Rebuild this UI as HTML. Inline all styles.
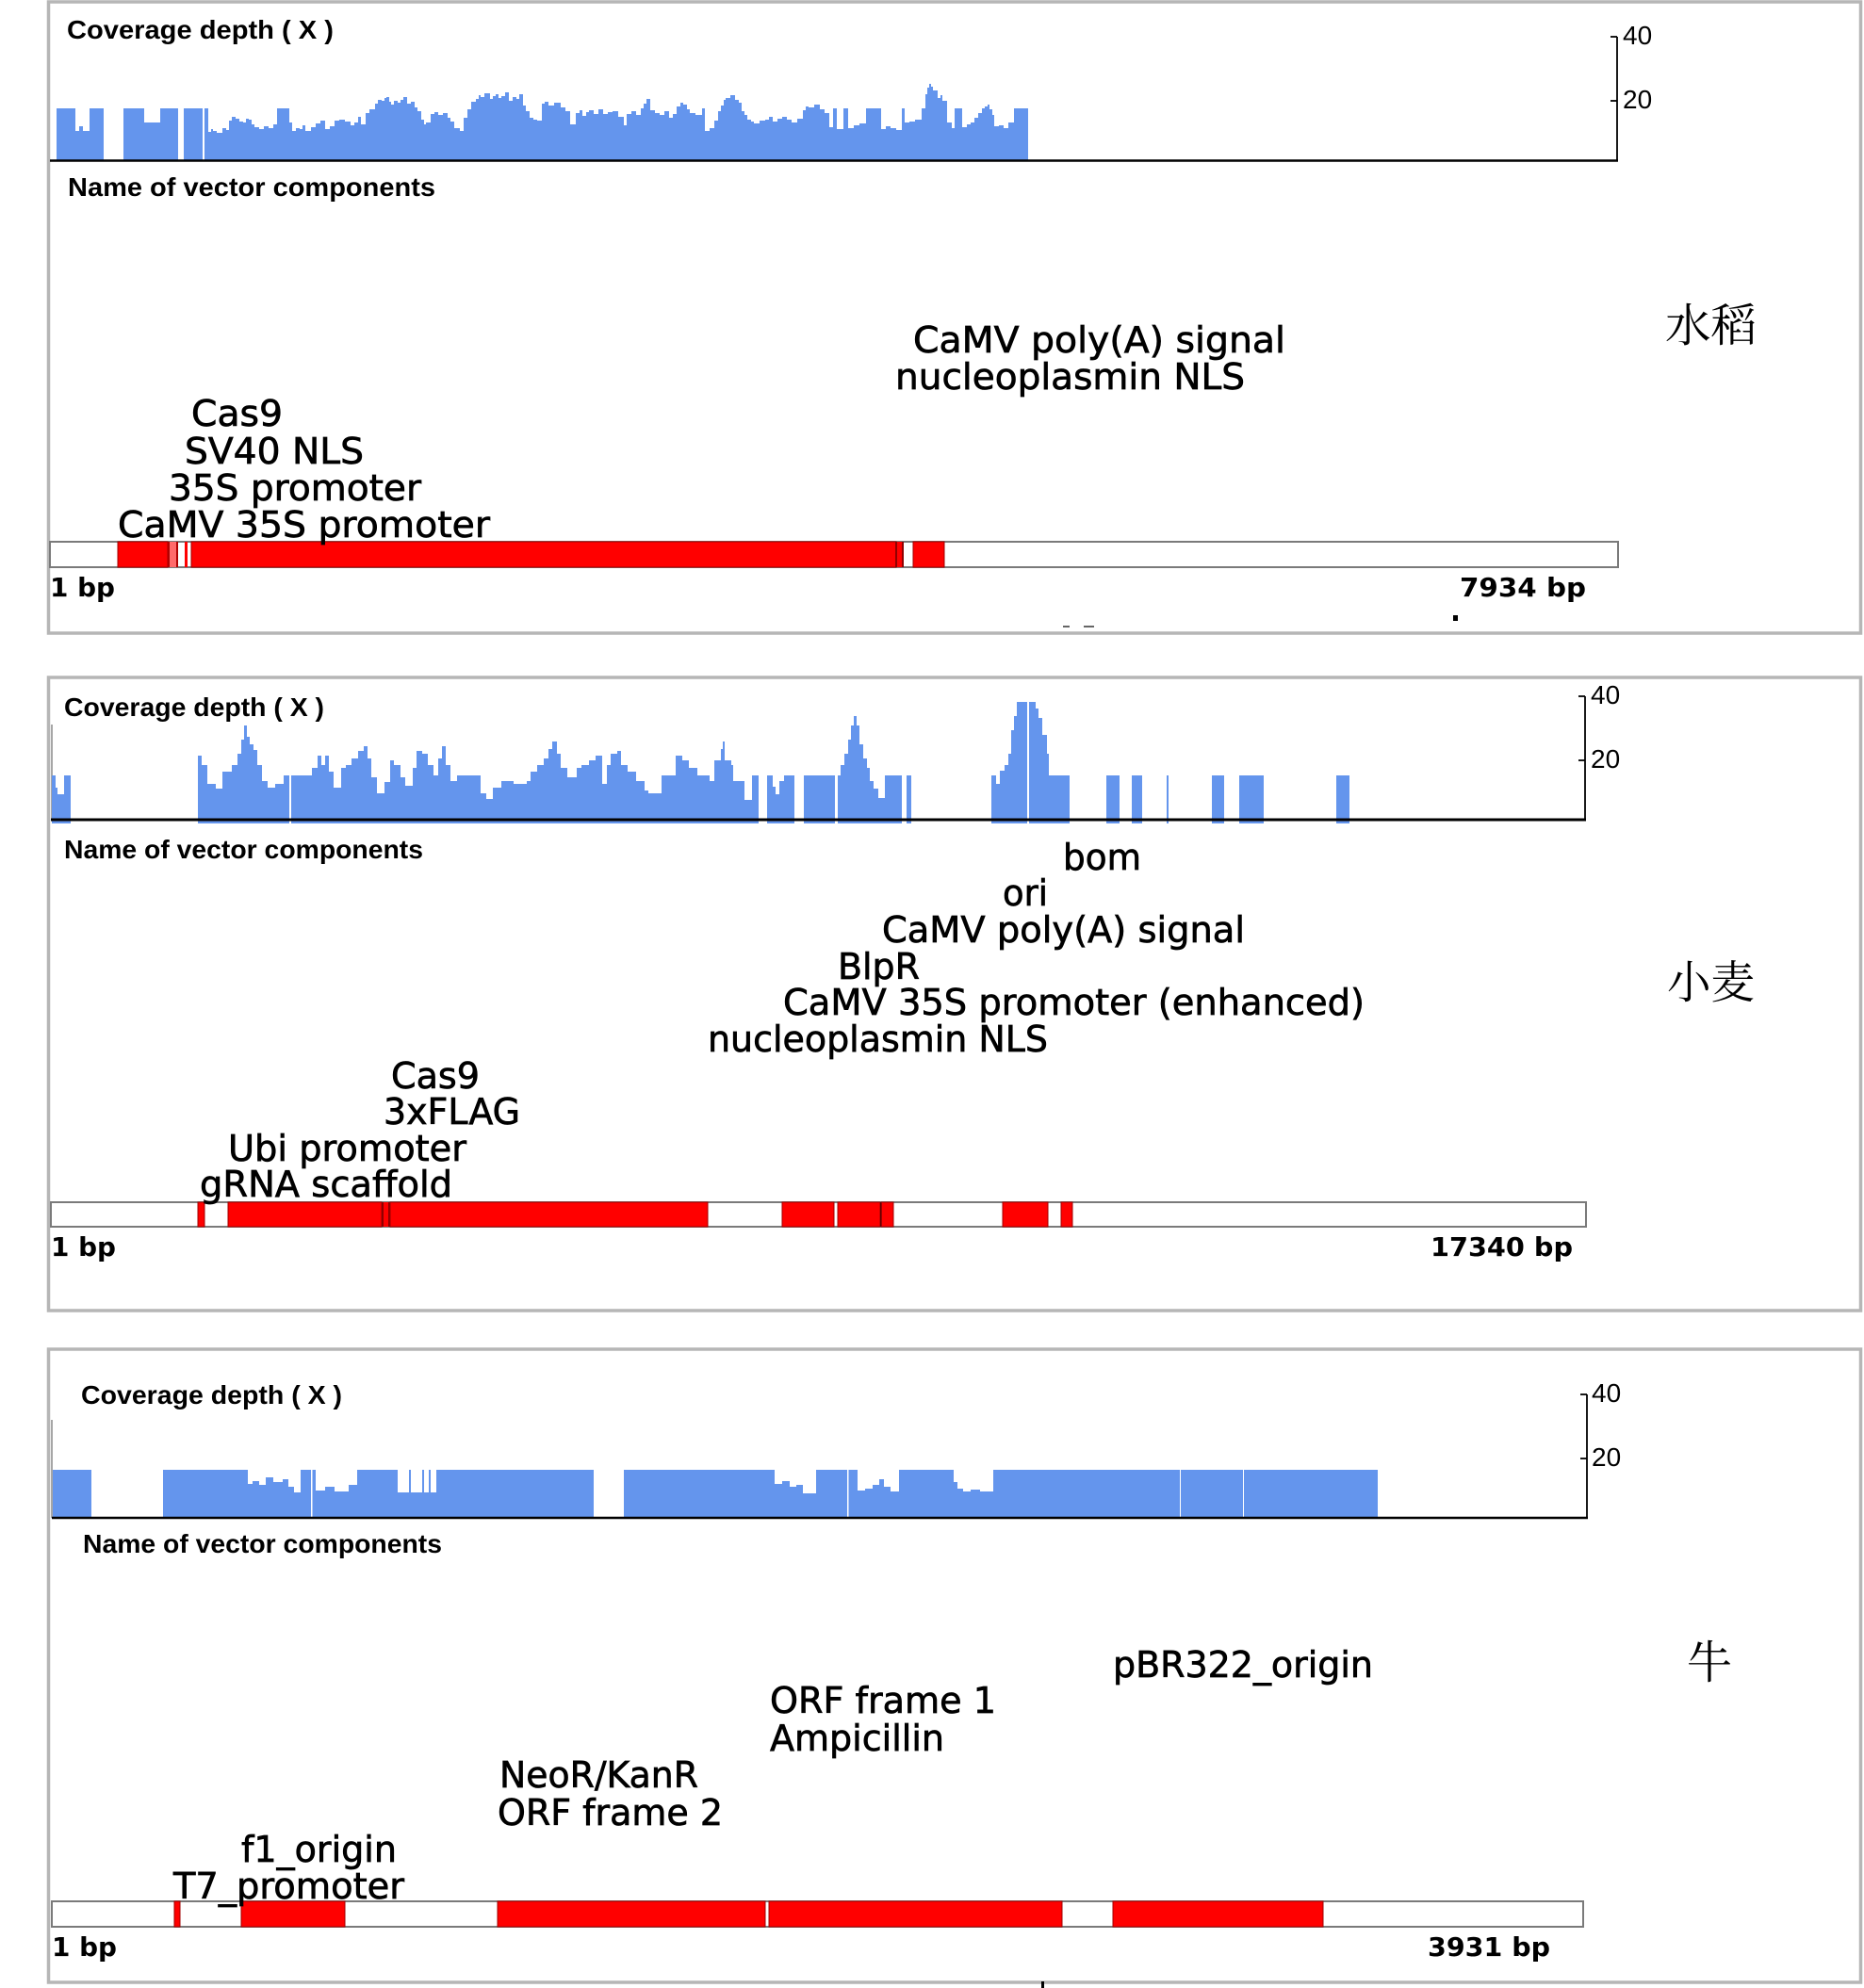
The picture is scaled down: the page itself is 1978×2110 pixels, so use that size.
<!DOCTYPE html>
<html>
<head>
<meta charset="utf-8">
<style>
html,body{margin:0;padding:0;background:#fff;}
svg{display:block;}
.tt{font-family:"Liberation Sans",Arial,sans-serif;font-weight:bold;font-size:28px;fill:#000;}
.tk{font-family:"Liberation Sans",Arial,sans-serif;font-size:28px;fill:#000;}
.lb{font-family:"DejaVu Sans","Liberation Sans",sans-serif;font-size:38px;fill:#000;stroke:#000;stroke-width:0.7;}
.bp{font-family:"DejaVu Sans","Liberation Sans",sans-serif;font-weight:bold;font-size:28px;fill:#000;}
.cn{font-family:"Liberation Serif","Noto Serif CJK SC","Noto Sans CJK SC",serif;font-size:48px;fill:#000;}
.cov{fill:#6495ED;}
.red{fill:#ff0000;stroke:#a00000;stroke-width:1;}
.trk{fill:#fff;stroke:#7a7a7a;stroke-width:2;}
.pan{fill:#fff;stroke:#b6b6b6;stroke-width:3.5;}
</style>
</head>
<body>
<svg width="1978" height="2110" viewBox="0 0 1978 2110" xmlns="http://www.w3.org/2000/svg">
<rect x="0" y="0" width="1978" height="2110" fill="#fff"/>

<!-- ================= PANEL 1 ================= -->
<rect class="pan" x="51.5" y="2" width="1923" height="670"/>
<text class="tt" x="71" y="41" textLength="283" lengthAdjust="spacingAndGlyphs">Coverage depth ( X )</text>

<path class="cov" d="M60,170 V115 H80 V139 H84 V134 H88 V139 H95 V115 H110 V170 Z"/>
<path class="cov" d="M131,170 V115 H153 V130 H170 V115 H189 V170 Z"/>
<path class="cov" d="M195,170 V115 H215 V170 H217 V115 H221 V140 H224 V137 H226 V139 H230 V141 H236 V136 H240 V138 H243 V128 H246 V124 H250 V126 H254 V129 H258 V130 H261 V126 H264 V127 H267 V132 H270 V135 H275 V137 H280 V134 H285 V136 H290 V132 H294 V115 H307 V130 H310 V139 H314 V136 H318 V137 H321 V133 H324 V139 H330 V135 H335 V131 H340 V128 H345 V137 H350 V134 H355 V128 H360 V127 H366 V129 H372 V133 H376 V130 H380 V124 H383 V132 H388 V120 H392 V116 H398 V110 H401 V106 H405 V107 H408 V104 H410 V103 H413 V108 H415 V111 H418 V107 H422 V109 H425 V106 H428 V103 H432 V110 H436 V108 H440 V114 H443 V118 H447 V127 H450 V132 H452 V130 H457 V121 H461 V119 H465 V122 H470 V120 H475 V125 H478 V129 H482 V136 H488 V139 H492 V125 H496 V116 H500 V108 H505 V105 H508 V101 H510 V103 H514 V99 H520 V105 H523 V102 H526 V100 H529 V104 H532 V102 H536 V98 H540 V107 H544 V103 H548 V105 H551 V100 H555 V112 H558 V118 H562 V125 H566 V127 H570 V128 H575 V110 H578 V108 H582 V112 H588 V109 H595 V114 H600 V118 H605 V132 H611 V120 H615 V117 H618 V123 H622 V119 H625 V117 H630 V121 H635 V116 H640 V121 H645 V119 H650 V118 H656 V124 H662 V133 H665 V121 H670 V118 H675 V122 H680 V115 H683 V110 H686 V105 H690 V117 H695 V120 H700 V122 H705 V118 H710 V125 H714 V121 H718 V113 H722 V109 H725 V111 H729 V116 H732 V120 H738 V122 H745 V115 H748 V139 H753 V136 H758 V128 H762 V118 H765 V112 H768 V106 H770 V104 H775 V101 H780 V106 H784 V109 H787 V118 H790 V122 H793 V127 H797 V129 H800 V131 H806 V128 H812 V127 H816 V124 H820 V129 H825 V126 H830 V124 H835 V127 H840 V130 H846 V126 H852 V117 H855 V113 H858 V114 H864 V111 H870 V116 H875 V120 H880 V135 H884 V115 H888 V137 H895 V115 H900 V136 H906 V133 H912 V131 H919 V115 H935 V137 H940 V134 H945 V136 H951 V138 H957 V115 H960 V130 H965 V129 H971 V127 H978 V115 H982 V100 H984 V93 H986 V89 H988 V92 H990 V96 H995 V104 H998 V101 H1000 V107 H1005 V130 H1010 V136 H1013 V115 H1021 V135 H1026 V132 H1030 V130 H1034 V125 H1038 V120 H1042 V115 H1045 V113 H1048 V111 H1050 V116 H1053 V122 H1055 V134 H1060 V133 H1065 V136 H1070 V130 H1076 V115 H1091 V170 Z"/>

<line x1="53" y1="170.5" x2="1717" y2="170.5" stroke="#000" stroke-width="2.5"/>
<line x1="1716" y1="39" x2="1716" y2="171" stroke="#000" stroke-width="1.8"/>
<line x1="1709" y1="39" x2="1716" y2="39" stroke="#000" stroke-width="1.8"/>
<line x1="1709" y1="107" x2="1716" y2="107" stroke="#000" stroke-width="1.8"/>
<text class="tk" x="1722" y="47">40</text>
<text class="tk" x="1722" y="115">20</text>

<text class="tt" x="72" y="208" textLength="390" lengthAdjust="spacingAndGlyphs">Name of vector components</text>

<rect class="trk" x="53" y="575" width="1664" height="27"/>
<rect class="red" x="125" y="575" width="53" height="27"/>
<rect x="178" y="575" width="2" height="27" fill="#b00000"/>
<rect x="180" y="575" width="8" height="27" fill="#ff6a6a"/>
<rect x="187" y="575" width="2" height="27" fill="#b00000"/>
<rect x="196" y="575" width="3" height="27" fill="#ff0000"/>
<rect class="red" x="203" y="575" width="748" height="27"/>
<rect x="950" y="575" width="2" height="27" fill="#900000"/>
<rect x="952" y="575" width="6" height="27" fill="#ff0000"/>
<rect x="957" y="575" width="2" height="27" fill="#900000"/>
<rect class="red" x="969" y="575" width="33" height="27"/>

<text class="lb" x="969" y="374" textLength="395" lengthAdjust="spacingAndGlyphs">CaMV poly(A) signal</text>
<text class="lb" x="950" y="413" textLength="371" lengthAdjust="spacingAndGlyphs">nucleoplasmin NLS</text>
<text class="lb" x="203" y="452" textLength="97" lengthAdjust="spacingAndGlyphs">Cas9</text>
<text class="lb" x="196" y="492" textLength="190" lengthAdjust="spacingAndGlyphs">SV40 NLS</text>
<text class="lb" x="179" y="531" textLength="268" lengthAdjust="spacingAndGlyphs">35S promoter</text>
<text class="lb" x="125" y="570" textLength="395" lengthAdjust="spacingAndGlyphs">CaMV 35S promoter</text>

<text class="bp" x="53" y="633" textLength="69" lengthAdjust="spacingAndGlyphs">1 bp</text>
<text class="bp" x="1549" y="633" textLength="134" lengthAdjust="spacingAndGlyphs">7934 bp</text>
<rect x="1542" y="653" width="5" height="6" fill="#000"/>
<rect x="1128" y="664" width="7" height="2" fill="#666"/>
<rect x="1150" y="664" width="11" height="2" fill="#666"/>

<text class="cn" x="1767" y="362" textLength="97" lengthAdjust="spacingAndGlyphs">水稻</text>

<!-- ================= PANEL 2 ================= -->
<rect class="pan" x="51.5" y="719" width="1923" height="672"/>
<text class="tt" x="68" y="760" textLength="276" lengthAdjust="spacingAndGlyphs">Coverage depth ( X )</text>
<line x1="55" y1="769" x2="55" y2="870" stroke="#888" stroke-width="1.5"/>

<path class="cov" d="M55,874 V823 H59 V836 H61 V843 H68 V823 H75 V874 Z"/>
<path class="cov" d="M210,874 V802 H214 V812 H220 V832 H229 V837 H236 V819 H246 V812 H252 V800 H256 V785 H259 V770 H262 V782 H265 V790 H269 V796 H273 V812 H278 V829 H284 V836 H292 V832 H301 V823 H307 V874 H309 V823 H331 V815 H337 V802 H341 V812 H345 V802 H349 V819 H354 V836 H362 V815 H367 V812 H373 V805 H380 V797 H386 V792 H390 V805 H394 V825 H400 V842 H408 V830 H414 V807 H418 V812 H425 V825 H430 V834 H438 V815 H442 V797 H448 V800 H454 V812 H460 V823 H465 V805 H469 V792 H473 V812 H478 V829 H485 V823 H510 V842 H516 V848 H523 V836 H532 V829 H545 V832 H559 V829 H563 V819 H570 V812 H577 V805 H582 V795 H586 V787 H591 V800 H595 V815 H602 V825 H612 V815 H617 V812 H625 V807 H632 V802 H639 V832 H644 V812 H648 V800 H655 V797 H659 V812 H666 V819 H675 V829 H684 V839 H688 V842 H702 V823 H717 V802 H724 V807 H731 V815 H740 V823 H753 V829 H758 V807 H765 V795 H767 V787 H769 V807 H776 V812 H778 V829 H790 V849 H798 V823 H805 V874 Z"/>
<path class="cov" d="M814,874 V823 H820 V835 H823 V843 H827 V829 H832 V823 H843 V874 Z"/>
<path class="cov" d="M853,874 V823 H886 V874 Z"/>
<path class="cov" d="M889,874 V823 H892 V812 H896 V800 H900 V785 H903 V770 H906 V760 H909 V770 H912 V790 H916 V805 H920 V815 H923 V829 H927 V837 H932 V847 H939 V823 H957 V874 Z"/>
<path class="cov" d="M962,874 V823 H967 V874 Z"/>
<path class="cov" d="M1052,874 V823 H1057 V832 H1061 V818 H1066 V812 H1070 V800 H1073 V775 H1076 V760 H1079 V745 H1090 V874 Z"/>
<path class="cov" d="M1092,874 V745 H1099 V752 H1102 V762 H1106 V780 H1111 V800 H1113 V823 H1135 V874 Z"/>
<rect class="cov" x="1174" y="823" width="14" height="51"/>
<rect class="cov" x="1201" y="823" width="11" height="51"/>
<rect class="cov" x="1238" y="823" width="2" height="51"/>
<rect class="cov" x="1286" y="823" width="13" height="51"/>
<rect class="cov" x="1315" y="823" width="26" height="51"/>
<rect class="cov" x="1418" y="823" width="14" height="51"/>

<line x1="54" y1="870" x2="1683" y2="870" stroke="#000" stroke-width="3"/>
<line x1="1682" y1="739" x2="1682" y2="871" stroke="#000" stroke-width="1.8"/>
<line x1="1675" y1="739" x2="1682" y2="739" stroke="#000" stroke-width="1.8"/>
<line x1="1675" y1="807" x2="1682" y2="807" stroke="#000" stroke-width="1.8"/>
<text class="tk" x="1688" y="747">40</text>
<text class="tk" x="1688" y="815">20</text>

<text class="tt" x="68" y="911" textLength="381" lengthAdjust="spacingAndGlyphs">Name of vector components</text>

<rect class="trk" x="54" y="1276" width="1629" height="26"/>
<rect class="red" x="210" y="1276" width="7" height="26"/>
<rect class="red" x="242" y="1276" width="163" height="26"/>
<rect x="405" y="1276" width="2" height="26" fill="#900000"/>
<rect x="407" y="1276" width="5" height="26" fill="#ff0000"/>
<rect x="412" y="1276" width="2" height="26" fill="#900000"/>
<rect class="red" x="414" y="1276" width="337" height="26"/>
<rect class="red" x="830" y="1276" width="55" height="26"/>
<rect class="red" x="889" y="1276" width="45" height="26"/>
<rect x="934" y="1276" width="1.5" height="26" fill="#600000"/>
<rect class="red" x="935.5" y="1276" width="12.5" height="26"/>
<rect class="red" x="1064" y="1276" width="48" height="26"/>
<rect class="red" x="1126" y="1276" width="12" height="26"/>

<text class="lb" x="1128" y="923" textLength="83" lengthAdjust="spacingAndGlyphs">bom</text>
<text class="lb" x="1064" y="961" textLength="48" lengthAdjust="spacingAndGlyphs">ori</text>
<text class="lb" x="936" y="1000" textLength="385" lengthAdjust="spacingAndGlyphs">CaMV poly(A) signal</text>
<text class="lb" x="889" y="1039" textLength="87" lengthAdjust="spacingAndGlyphs">BlpR</text>
<text class="lb" x="831" y="1077" textLength="617" lengthAdjust="spacingAndGlyphs">CaMV 35S promoter (enhanced)</text>
<text class="lb" x="751" y="1116" textLength="361" lengthAdjust="spacingAndGlyphs">nucleoplasmin NLS</text>
<text class="lb" x="415" y="1155" textLength="94" lengthAdjust="spacingAndGlyphs">Cas9</text>
<text class="lb" x="407" y="1193" textLength="145" lengthAdjust="spacingAndGlyphs">3xFLAG</text>
<text class="lb" x="242" y="1232" textLength="253" lengthAdjust="spacingAndGlyphs">Ubi promoter</text>
<text class="lb" x="212" y="1270" textLength="268" lengthAdjust="spacingAndGlyphs">gRNA scaffold</text>

<text class="bp" x="54" y="1333" textLength="69" lengthAdjust="spacingAndGlyphs">1 bp</text>
<text class="bp" x="1518" y="1333" textLength="151" lengthAdjust="spacingAndGlyphs">17340 bp</text>

<text class="cn" x="1769" y="1059" textLength="93" lengthAdjust="spacingAndGlyphs">小麦</text>

<!-- ================= PANEL 3 ================= -->
<rect class="pan" x="51.5" y="1432" width="1923" height="672"/>
<text class="tt" x="86" y="1490" textLength="277" lengthAdjust="spacingAndGlyphs">Coverage depth ( X )</text>
<line x1="55" y1="1507" x2="55" y2="1611" stroke="#888" stroke-width="1.5"/>

<path class="cov" d="M56,1610 V1560 H97 V1610 Z"/>
<path class="cov" d="M173,1610 V1560 H263 V1575 H268 V1572 H275 V1576 H282 V1568 H290 V1573 H300 V1570 H306 V1578 H312 V1584 H319 V1560 H330 V1610 H331.5 V1560 H335 V1582 H345 V1578 H355 V1583 H370 V1576 H379 V1560 H422 V1584 H434 V1560 H436 V1584 H448 V1560 H450 V1584 H455 V1560 H457 V1584 H463 V1560 H630 V1610 Z"/>
<path class="cov" d="M662,1610 V1560 H822 V1575 H830 V1572 H838 V1578 H845 V1576 H852 V1585 H866 V1560 H899 V1610 H900.5 V1560 H910 V1582 H918 V1580 H926 V1576 H933 V1570 H938 V1578 H945 V1583 H954 V1560 H1012 V1573 H1016 V1580 H1022 V1583 H1030 V1581 H1040 V1583 H1054 V1560 H1252 V1610 H1253 V1560 H1319 V1610 H1320 V1560 H1462 V1610 Z"/>

<line x1="55" y1="1611" x2="1685" y2="1611" stroke="#000" stroke-width="2.5"/>
<line x1="1684" y1="1480" x2="1684" y2="1612" stroke="#000" stroke-width="1.8"/>
<line x1="1677" y1="1480" x2="1684" y2="1480" stroke="#000" stroke-width="1.8"/>
<line x1="1677" y1="1548" x2="1684" y2="1548" stroke="#000" stroke-width="1.8"/>
<text class="tk" x="1689" y="1488">40</text>
<text class="tk" x="1689" y="1556">20</text>

<text class="tt" x="88" y="1648" textLength="381" lengthAdjust="spacingAndGlyphs">Name of vector components</text>

<rect class="trk" x="55" y="2018" width="1625" height="27"/>
<rect class="red" x="185" y="2018" width="6" height="27"/>
<rect class="red" x="256" y="2018" width="110" height="27"/>
<rect class="red" x="528" y="2018" width="284" height="27"/>
<rect class="red" x="816" y="2018" width="311" height="27"/>
<rect class="red" x="1181" y="2018" width="223" height="27"/>

<text class="lb" x="1181" y="1780" textLength="276" lengthAdjust="spacingAndGlyphs">pBR322_origin</text>
<text class="lb" x="817" y="1818" textLength="240" lengthAdjust="spacingAndGlyphs">ORF frame 1</text>
<text class="lb" x="817" y="1858" textLength="185" lengthAdjust="spacingAndGlyphs">Ampicillin</text>
<text class="lb" x="530" y="1897" textLength="211" lengthAdjust="spacingAndGlyphs">NeoR/KanR</text>
<text class="lb" x="528" y="1937" textLength="239" lengthAdjust="spacingAndGlyphs">ORF frame 2</text>
<text class="lb" x="256" y="1976" textLength="165" lengthAdjust="spacingAndGlyphs">f1_origin</text>
<text class="lb" x="184" y="2015" textLength="245" lengthAdjust="spacingAndGlyphs">T7_promoter</text>

<text class="bp" x="55" y="2076" textLength="69" lengthAdjust="spacingAndGlyphs">1 bp</text>
<text class="bp" x="1515" y="2076" textLength="130" lengthAdjust="spacingAndGlyphs">3931 bp</text>
<rect x="1105" y="2103" width="3" height="7" fill="#000"/>

<text class="cn" x="1790" y="1781">牛</text>
</svg>
</body>
</html>
